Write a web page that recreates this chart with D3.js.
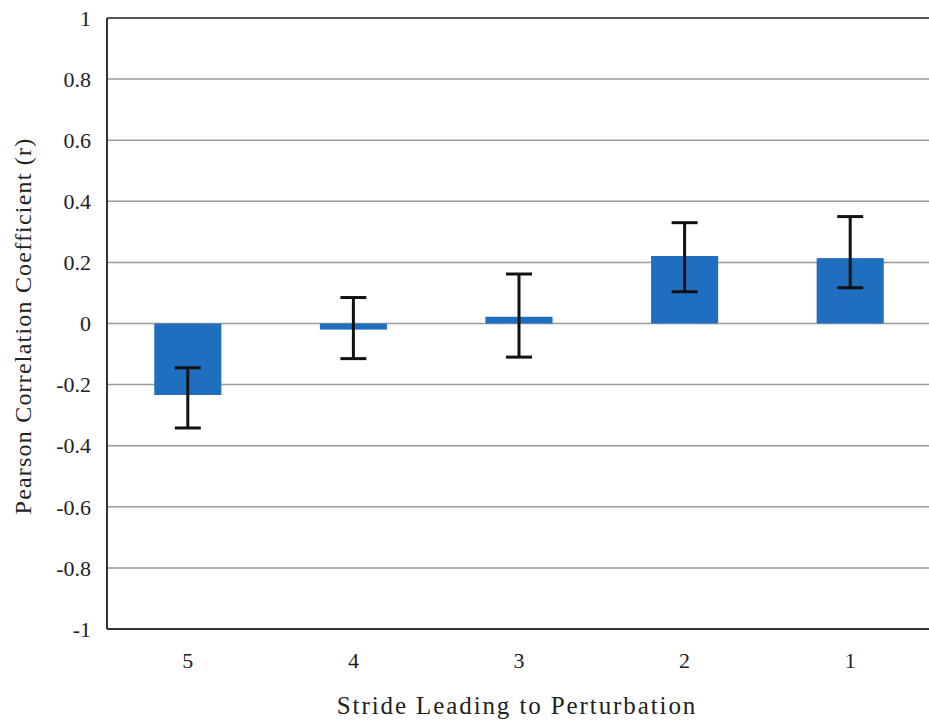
<!DOCTYPE html>
<html>
<head>
<meta charset="utf-8">
<script src="https://cdn.jsdelivr.net/npm/d3@7"></script>
<style>
  html, body { margin: 0; padding: 0; background: #fff; }
  svg { display: block; }
</style>
</head>
<body>
<svg id="chart" width="929" height="725"></svg>
<script>
// Data
const categories = ["5", "4", "3", "2", "1"];
const values = [-0.234, -0.02, 0.022, 0.221, 0.214];
const errLower = [-0.342, -0.115, -0.11, 0.104, 0.117];
const errUpper = [-0.145, 0.085, 0.162, 0.33, 0.35];
const yTicks = [-1, -0.8, -0.6, -0.4, -0.2, 0, 0.2, 0.4, 0.6, 0.8, 1];
const xTitle = "Stride Leading to Perturbation";
const yTitle = "Pearson Correlation Coefficient (r)";

const FONT = "'Liberation Serif', Tinos, 'Times New Roman', Times, 'Noto Serif', 'DejaVu Serif', FreeSerif, serif";
const svg = d3.select("#chart").attr("font-family", FONT);
const pLeft = 107, pRight = 934, pTop = 18, pBottom = 629;

const x = d3.scaleBand().domain(categories).range([105, 933])
  .paddingInner(0.595).paddingOuter(0.2975);
const y = d3.scaleLinear().domain([-1, 1]).range([pBottom, pTop]);

// gridlines
svg.append("g").selectAll("line").data(yTicks.filter(d => d !== -1)).join("line")
  .attr("x1", pLeft).attr("x2", pRight)
  .attr("y1", d => y(d)).attr("y2", d => y(d))
  .attr("stroke", d => d === 1 ? "#555" : "#9a9a9a")
  .attr("stroke-width", d => d === 1 ? 2 : 1.5);

// bars
svg.append("g").selectAll("rect").data(values).join("rect")
  .attr("x", (d, i) => x(categories[i]))
  .attr("width", x.bandwidth())
  .attr("y", d => y(Math.max(0, d)))
  .attr("height", d => Math.abs(y(d) - y(0)))
  .attr("fill", "#1f6ebf");

// error bars
const eg = svg.append("g").attr("stroke", "#111").attr("stroke-width", 3);
categories.forEach((c, i) => {
  const cx = x(c) + x.bandwidth() / 2;
  eg.append("line").attr("x1", cx).attr("x2", cx).attr("y1", y(errLower[i])).attr("y2", y(errUpper[i]));
  eg.append("line").attr("x1", cx - 13).attr("x2", cx + 13).attr("y1", y(errLower[i])).attr("y2", y(errLower[i]));
  eg.append("line").attr("x1", cx - 13).attr("x2", cx + 13).attr("y1", y(errUpper[i])).attr("y2", y(errUpper[i]));
});

// axes lines
svg.append("line").attr("x1", pLeft).attr("x2", pLeft).attr("y1", pTop).attr("y2", pBottom)
  .attr("stroke", "#333").attr("stroke-width", 2);
svg.append("line").attr("x1", pLeft).attr("x2", pRight).attr("y1", pBottom).attr("y2", pBottom)
  .attr("stroke", "#333").attr("stroke-width", 2);

// y tick labels
svg.append("g").selectAll("text").data(yTicks).join("text")
  .attr("x", 91).attr("y", d => y(d)).attr("dy", "0.35em")
  .attr("text-anchor", "end").attr("font-size", 22).attr("fill", "#222")
  .text(d => String(+d.toFixed(1)));

// x tick labels
svg.append("g").selectAll("text").data(categories).join("text")
  .attr("x", d => x(d) + x.bandwidth() / 2).attr("y", 668)
  .attr("text-anchor", "middle").attr("font-size", 22).attr("fill", "#222")
  .text(d => d);

// titles
svg.append("text").attr("x", 517).attr("y", 714).attr("text-anchor", "middle")
  .attr("font-size", 25).attr("fill", "#222").attr("letter-spacing", 1.9).text(xTitle);
svg.append("text").attr("transform", "translate(31,326) rotate(-90)")
  .attr("text-anchor", "middle").attr("font-size", 24).attr("fill", "#222")
  .attr("letter-spacing", 1.2).text(yTitle);
</script>
</body>
</html>
